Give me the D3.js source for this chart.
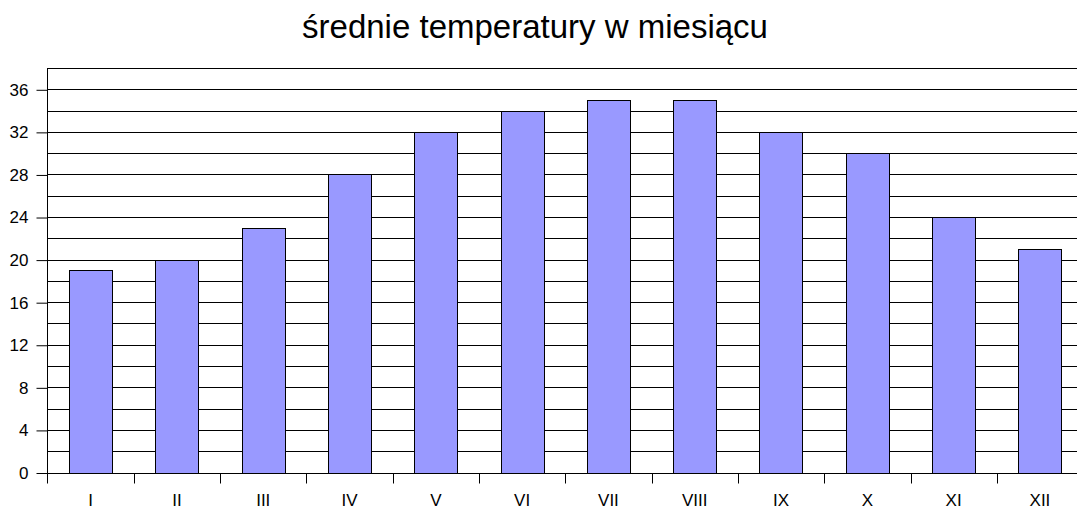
<!DOCTYPE html>
<html>
<head>
<meta charset="utf-8">
<script src="https://cdn.jsdelivr.net/npm/d3@7"></script>
<style>
	body { margin: 0; background: #fff; }
	text { font-family: "Liberation Sans", Arial, sans-serif; fill: #000; }
</style>
</head>
<body>
<div id="chart"></div>
<script>
// miesiące i średnie temperatury
var months = ['I', 'II', 'III', 'IV', 'V', 'VI', 'VII', 'VIII', 'IX', 'X', 'XI', 'XII'];
var temps = [19, 20, 23, 28, 32, 34, 35, 35, 32, 30, 24, 21];
var yTicks = [0, 4, 8, 12, 16, 20, 24, 28, 32, 36];
var gridValues = d3.range(0, 39, 2);
var title = 'średnie temperatury w miesiącu';

var width = 1077, height = 511;
var margin = { top: 68, left: 47.5, bottom: 38 };
var plotRight = 47.5 + 12 * 86.3;

var svg = d3.select('#chart')
	.append('svg')
	.attr('width', width)
	.attr('height', height);

var x = d3.scaleBand()
	.domain(months)
	.range([margin.left, plotRight])
	.paddingInner(0.5)
	.paddingOuter(0.25);

var y = d3.scaleLinear()
	.domain([0, 38])
	.range([height - margin.bottom - 0.5, margin.top]);

// linie siatki
svg.append('g')
	.selectAll('line')
	.data(gridValues)
	.enter()
	.append('line')
	.attr('x1', margin.left)
	.attr('x2', width)
	.attr('y1', function(d) { return Math.round(y(d)) + 0.5; })
	.attr('y2', function(d) { return Math.round(y(d)) + 0.5; })
	.attr('stroke', '#000')
	.attr('stroke-width', 1);

// słupki
svg.append('g')
	.selectAll('rect')
	.data(temps)
	.enter()
	.append('rect')
	.attr('x', function(d, i) { return Math.round(x(months[i])) + 0.5; })
	.attr('width', Math.round(x.bandwidth()))
	.attr('y', function(d) { return Math.round(y(d)) + 0.5; })
	.attr('height', function(d) { return Math.round(y(0)) - Math.round(y(d)); })
	.attr('fill', '#9999ff')
	.attr('stroke', '#000')
	.attr('stroke-width', 1);

// oś Y
var yAxis = d3.axisLeft(y)
	.tickValues(yTicks)
	.tickSize(11)
	.tickPadding(8)
	.tickFormat(d3.format('d'));

var gy = svg.append('g')
	.attr('transform', 'translate(' + margin.left + ',0.5)')
	.call(yAxis);
gy.select('.domain').remove();
gy.selectAll('.tick line').attr('stroke', '#000');
gy.selectAll('.tick text').style('font-size', '17px');

svg.append('line')
	.attr('x1', margin.left).attr('x2', margin.left)
	.attr('y1', margin.top).attr('y2', y(0) + 11)
	.attr('stroke', '#000');

// oś X: kreski między kategoriami
var xBase = Math.round(y(0)) + 0.5;
var step = x.step();
svg.append('g')
	.selectAll('line')
	.data(d3.range(1, months.length))
	.enter()
	.append('line')
	.attr('x1', function(d) { return Math.round(margin.left + d * step) + 0.5; })
	.attr('x2', function(d) { return Math.round(margin.left + d * step) + 0.5; })
	.attr('y1', xBase)
	.attr('y2', xBase + 10)
	.attr('stroke', '#000');

// etykiety miesięcy (lekko podniesione, by nie wychodziły poza obraz)
svg.append('g')
	.selectAll('text')
	.data(months)
	.enter()
	.append('text')
	.attr('x', function(d) { return x(d) + x.bandwidth() / 2; })
	.attr('y', 506)
	.attr('text-anchor', 'middle')
	.style('font-size', '17px')
	.text(function(d) { return d; });

// tytuł
svg.append('text')
	.attr('x', 535)
	.attr('y', 38)
	.attr('text-anchor', 'middle')
	.style('font-size', '33px')
	.text(title);
</script>
</body>
</html>
